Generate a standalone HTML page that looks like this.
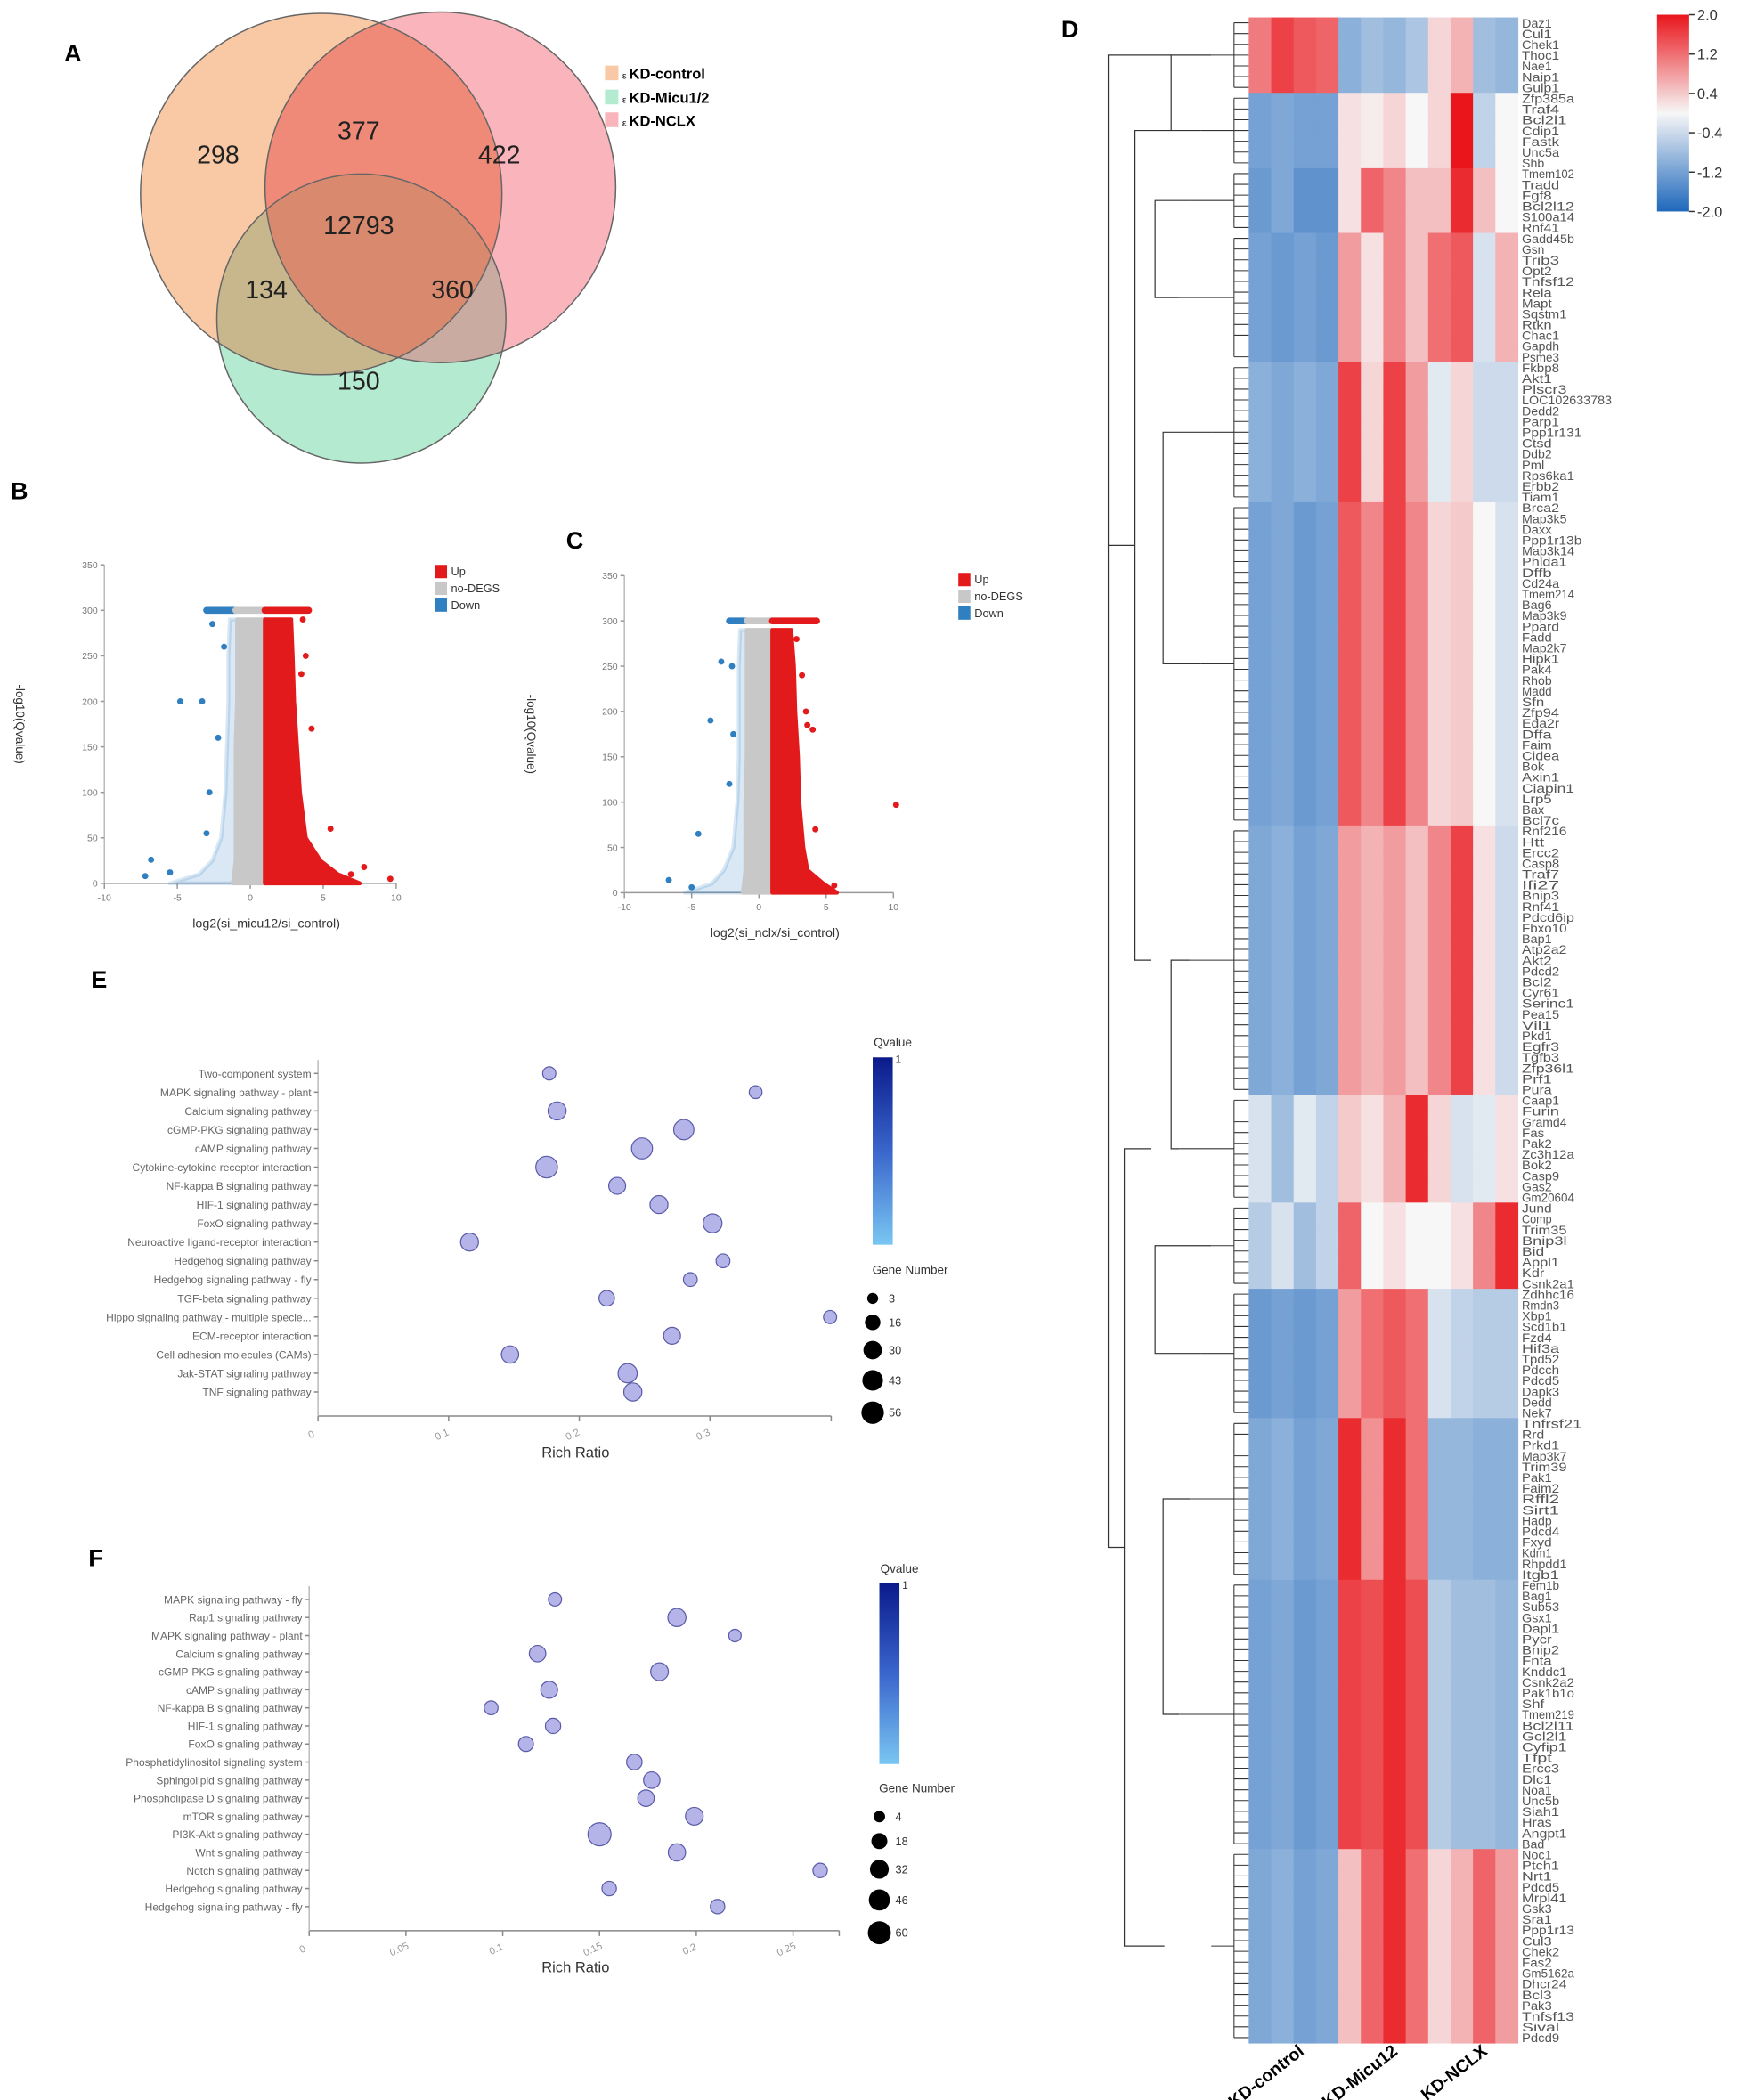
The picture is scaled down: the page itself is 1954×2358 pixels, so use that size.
<!DOCTYPE html>
<html><head><meta charset="utf-8">
<style>
html,body{margin:0;padding:0;background:#fff;}
svg{display:block;}
text{font-family:"Liberation Sans",sans-serif;}
</style></head>
<body>
<svg id="fig" width="1954" height="2358" viewBox="0 0 1300 1569" preserveAspectRatio="none" xmlns="http://www.w3.org/2000/svg">
<defs>
  <clipPath id="clipCtrl"><circle cx="240" cy="145" r="135"/></clipPath>
  <clipPath id="clipNclx"><circle cx="329" cy="140" r="131"/></clipPath>
  <clipPath id="clipMicu"><circle cx="270" cy="238" r="108"/></clipPath>
</defs>
<!-- Panel A: Venn -->
<g>
  <text x="48" y="46" font-size="18" font-weight="bold">A</text>
  <circle cx="240" cy="145" r="135" fill="#f9c9a6"/>
  <circle cx="329" cy="140" r="131" fill="#f9b4bc"/>
  <circle cx="270" cy="238" r="108" fill="#b4ebd0"/>
  <circle cx="329" cy="140" r="131" fill="#f08a78" clip-path="url(#clipCtrl)"/>
  <circle cx="270" cy="238" r="108" fill="#c8b68c" clip-path="url(#clipCtrl)"/>
  <circle cx="270" cy="238" r="108" fill="#c9aba2" clip-path="url(#clipNclx)"/>
  <g clip-path="url(#clipCtrl)"><circle cx="270" cy="238" r="108" fill="#d98a6e" clip-path="url(#clipNclx)"/></g>
  <circle cx="240" cy="145" r="135" fill="none" stroke="#666" stroke-width="1"/>
  <circle cx="329" cy="140" r="131" fill="none" stroke="#666" stroke-width="1"/>
  <circle cx="270" cy="238" r="108" fill="none" stroke="#666" stroke-width="1"/>
  <g font-size="19" text-anchor="middle" fill="#222">
    <text x="163" y="122">298</text>
    <text x="268" y="104">377</text>
    <text x="373" y="122">422</text>
    <text x="268" y="175">12793</text>
    <text x="199" y="223">134</text>
    <text x="338" y="223">360</text>
    <text x="268" y="291">150</text>
  </g>
  <g font-size="11" font-weight="bold">
    <rect x="452" y="49" width="10" height="11" fill="#f9c9a6"/>
    <text x="465" y="59"><tspan font-weight="normal" font-size="7">ε </tspan>KD-control</text>
    <rect x="452" y="67" width="10" height="11" fill="#b4ebd0"/>
    <text x="465" y="77"><tspan font-weight="normal" font-size="7">ε </tspan>KD-Micu1/2</text>
    <rect x="452" y="84" width="10" height="11" fill="#f9b4bc"/>
    <text x="465" y="94"><tspan font-weight="normal" font-size="7">ε </tspan>KD-NCLX</text>
  </g>
</g>
<text x="8" y="373" font-size="18" font-weight="bold">B</text>
<text x="423" y="410" font-size="18" font-weight="bold">C</text>
<text x="68" y="738" font-size="18" font-weight="bold">E</text>
<text x="66" y="1170" font-size="18" font-weight="bold">F</text>
<text x="793" y="28" font-size="18" font-weight="bold">D</text>
<g id="volB"></g>
<g id="volC"></g>
<g id="bubE"></g>
<g id="bubF"></g>
<g id="heat"></g>
</svg>
<script>
// ---------- Volcano data ----------
const volLevels = [0, 10, 25, 50, 100, 150, 200, 250, 290];
const volB_redMax = [7.5, 6, 4.8, 3.8, 3.4, 3.2, 3.0, 2.9, 2.8];
const volB_blueMin = [-5.5, -3.5, -2.6, -2.0, -1.7, -1.6, -1.5, -1.5, -1.4];
const volB_grayLo = [-1.2, -1.1, -1.0, -1.0, -1.0, -1.0, -0.9, -0.9, -0.9];
const volB_grayHi = [1.0, 1.0, 1.0, 1.0, 1.0, 1.0, 1.0, 1.0, 1.0];
const volB_topRed = [1.0, 4.0]; const volB_topGray = [-1.0, 1.0]; const volB_topBlue = [-3.0, -1.0];
const volB_redX = [9.6, 7.8, 6.9, 5.5, 4.8, 4.2, 3.8, 3.5, 3.6];
const volB_redY = [5, 18, 10, 60, 20, 170, 250, 230, 290];
const volB_blueX = [-7.2, -6.8, -4.8, -3.3, -2.6, -2.8, -1.8, -2.2, -5.5, -3.0];
const volB_blueY = [8, 26, 200, 200, 285, 100, 260, 160, 12, 55];

const volC_redMax = [5.8, 4.8, 3.6, 3.3, 3.0, 2.9, 2.7, 2.6, 2.4];
const volC_blueMin = [-5.5, -3.5, -2.6, -1.9, -1.6, -1.5, -1.5, -1.5, -1.4];
const volC_grayLo = [-1.2, -1.1, -1.0, -1.0, -1.0, -0.9, -0.9, -0.9, -0.9];
const volC_grayHi = [1.0, 1.0, 1.0, 1.0, 1.0, 1.0, 1.0, 0.9, 0.9];
const volC_topRed = [1.0, 4.3]; const volC_topGray = [-0.9, 1.0]; const volC_topBlue = [-2.2, -0.9];
const volC_redX = [10.2, 5.6, 4.2, 3.5, 3.2, 2.8, 3.6, 4.0];
const volC_redY = [97, 8, 70, 200, 240, 280, 185, 180];
const volC_blueX = [-6.7, -4.5, -3.6, -2.8, -2.0, -2.2, -1.9, -5.0];
const volC_blueY = [14, 65, 190, 255, 250, 120, 175, 6];

// ---------- Bubble data E ----------
const catE = ["Two-component system","MAPK signaling pathway - plant","Calcium signaling pathway","cGMP-PKG signaling pathway","cAMP signaling pathway","Cytokine-cytokine receptor interaction","NF-kappa B signaling pathway","HIF-1 signaling pathway","FoxO signaling pathway","Neuroactive ligand-receptor interaction","Hedgehog signaling pathway","Hedgehog signaling pathway - fly","TGF-beta signaling pathway","Hippo signaling pathway - multiple specie...","ECM-receptor interaction","Cell adhesion molecules (CAMs)","Jak-STAT signaling pathway","TNF signaling pathway"];
const ratioE = [0.177,0.335,0.183,0.280,0.248,0.175,0.229,0.261,0.302,0.116,0.310,0.285,0.221,0.392,0.271,0.147,0.237,0.241];
const genesE = [8,7,28,40,45,50,22,27,32,27,10,10,16,8,22,24,34,28];
const ticksE = [0,0.1,0.2,0.3];
const legendE = [3,16,30,43,56];

// ---------- Bubble data F ----------
const catF = ["MAPK signaling pathway - fly","Rap1 signaling pathway","MAPK signaling pathway - plant","Calcium signaling pathway","cGMP-PKG signaling pathway","cAMP signaling pathway","NF-kappa B signaling pathway","HIF-1 signaling pathway","FoxO signaling pathway","Phosphatidylinositol signaling system","Sphingolipid signaling pathway","Phospholipase D signaling pathway","mTOR signaling pathway","PI3K-Akt signaling pathway","Wnt signaling pathway","Notch signaling pathway","Hedgehog signaling pathway","Hedgehog signaling pathway - fly"];
const ratioF = [0.127,0.190,0.220,0.118,0.181,0.124,0.094,0.126,0.112,0.168,0.177,0.174,0.199,0.150,0.190,0.264,0.155,0.211];
const genesF = [8,28,6,20,26,22,10,15,14,16,20,20,26,60,24,12,12,12];
const ticksF = [0,0.05,0.1,0.15,0.2,0.25];
const legendF = [4,18,32,46,60];

// ---------- Heatmap data (row clusters) ----------
const clusterRows = [7,7,6,12,13,30,25,10,8,12,15,25,18];
const clusterCtrl = [[1.1,1.6,1.4,1.3],[-1.2,-1.1,-1.2,-1.2],[-1.3,-1.1,-1.4,-1.4],[-1.2,-1.3,-1.2,-1.3],[-1.0,-1.1,-1.0,-1.1],[-1.2,-1.1,-1.3,-1.2],[-1.1,-1.0,-1.2,-1.1],[-0.3,-0.8,-0.2,-0.5],[-0.6,-0.3,-0.8,-0.5],[-1.3,-1.2,-1.3,-1.2],[-1.1,-1.0,-1.2,-1.1],[-1.2,-1.1,-1.3,-1.2],[-1.1,-1.0,-1.2,-1.1]];
const clusterMicu = [[-1.0,-0.8,-0.9,-0.7],[0.2,0.1,0.3,0.0],[0.2,1.3,1.0,0.5],[0.8,0.2,1.0,0.5],[1.6,0.3,1.6,0.8],[1.4,1.0,1.6,1.0],[0.8,0.6,0.8,0.5],[0.4,0.2,0.6,1.8],[1.3,0.0,0.2,0.0],[0.8,1.2,1.4,1.2],[1.8,0.9,1.8,1.2],[1.6,1.5,1.8,1.5],[0.5,1.3,1.8,1.2]];
const clusterNclx = [[0.3,0.6,-0.8,-0.9],[0.3,2.0,-0.5,0.0],[0.5,1.8,0.5,0.0],[1.2,1.4,-0.3,0.6],[-0.2,0.3,-0.4,-0.4],[0.3,0.4,0.0,-0.3],[1.0,1.6,0.2,-0.4],[0.3,-0.3,-0.2,0.2],[0.0,0.2,1.0,1.8],[-0.3,-0.5,-0.6,-0.6],[-0.9,-0.9,-1.0,-1.0],[-0.6,-0.8,-0.8,-0.9],[0.3,0.6,1.3,0.8]];
const geneLabels = ["Daz1","Cul1","Chek1","Thoc1","Nae1","Naip1","Gulp1","Zfp385a","Traf4","Bcl2l1","Cdip1","Fastk","Unc5a","Shb","Tmem102","Tradd","Fgf8","Bcl2l12","S100a14","Rnf41","Gadd45b","Gsn","Trib3","Opt2","Tnfsf12","Rela","Mapt","Sqstm1","Rtkn","Chac1","Gapdh","Psme3","Fkbp8","Akt1","Plscr3","LOC102633783","Dedd2","Parp1","Ppp1r131","Ctsd","Ddb2","Pml","Rps6ka1","Erbb2","Tiam1","Brca2","Map3k5","Daxx","Ppp1r13b","Map3k14","Phlda1","Dffb","Cd24a","Tmem214","Bag6","Map3k9","Ppard","Fadd","Map2k7","Hipk1","Pak4","Rhob","Madd","Sfn","Zfp94","Eda2r","Dffa","Faim","Cidea","Bok","Axin1","Ciapin1","Lrp5","Bax","Bcl7c","Rnf216","Htt","Ercc2","Casp8","Traf7","Ifi27","Bnip3","Rnf41","Pdcd6ip","Fbxo10","Bap1","Atp2a2","Akt2","Pdcd2","Bcl2","Cyr61","Serinc1","Pea15","Vil1","Pkd1","Egfr3","Tgfb3","Zfp36l1","Prf1","Pura","Caap1","Furin","Gramd4","Fas","Pak2","Zc3h12a","Bok2","Casp9","Gas2","Gm20604","Jund","Comp","Trim35","Bnip3l","Bid","Appl1","Kdr","Csnk2a1","Zdhhc16","Rmdn3","Xbp1","Scd1b1","Fzd4","Hif3a","Tpd52","Pdcch","Pdcd5","Dapk3","Dedd","Nek7","Tnfrsf21","Rrd","Prkd1","Map3k7","Trim39","Pak1","Faim2","Rffl2","Sirt1","Hadp","Pdcd4","Fxyd","Kdm1","Rhpdd1","Itgb1","Fem1b","Bag1","Sub53","Gsx1","Dapl1","Pycr","Bnip2","Fnta","Knddc1","Csnk2a2","Pak1b1o","Shf","Tmem219","Bcl2l11","Gcl2l1","Cyfip1","Tfpt","Ercc3","Dlc1","Noa1","Unc5b","Siah1","Hras","Angpt1","Bad","Noc1","Ptch1","Nrt1","Pdcd5","Mrpl41","Gsk3","Sra1","Ppp1r13","Cul3","Chek2","Fas2","Gm5162a","Dhcr24","Bcl3","Pak3","Tnfsf13","Sival","Pdcd9","Bbf1","Mien1","Emp4","Gabarap","Csrp1","Myo18","Mapt1","Opa1","Tnfrsf10","Apopt1","Dnajc1","Cflar","Xaf1","Noxa1","Pmaip1","Angpt","Ssl1","Pnipp1","Bcap1","Tnfrsf10b","Parl","Dap1","Bcl3","Pmp22","Hip1","Asah2","Rps6ka3","Ptpn6","Ebag9","Hspd1","Cradd","Bcl2l12","Sema3a"];

// ---------- helpers ----------
const NS = "http://www.w3.org/2000/svg";
function mk(parent, tag, attrs, txt) {
  const e = document.createElementNS(NS, tag);
  for (const k in attrs) e.setAttribute(k, attrs[k]);
  if (txt !== undefined) e.textContent = txt;
  parent.appendChild(e);
  return e;
}

// ---------- Volcano ----------
function volcano(g, o) {
  const sx = v => o.x0 + v * o.kx, sy = v => o.y0 - v * o.ky;
  let ax = mk(g, "line", {x1: sx(-10), y1: o.y0, x2: sx(10), y2: o.y0, stroke: "#999", "stroke-width": 1});
  
  
  let ay = mk(g, "line", {x1: sx(-10), y1: sy(0), x2: sx(-10), y2: sy(350), stroke: "#bbb", "stroke-width": 1});
  
  
  [-10,-5,0,5,10].forEach(t => {
    mk(g, "line", {x1: sx(t), y1: o.y0, x2: sx(t), y2: o.y0 + 4, stroke: "#999"});
    let tl = mk(g, "text", {x: sx(t), y: o.y0 + 13, "font-size": 7, fill: "#777", "text-anchor": "middle"}, t);
    
    
  });
  [0,50,100,150,200,250,300,350].forEach(t => {
    mk(g, "line", {x1: sx(-10) - 3, y1: sy(t), x2: sx(-10), y2: sy(t), stroke: "#999"});
    let tl = mk(g, "text", {x: sx(-10) - 5, y: sy(t) + 2.5, "font-size": 7, fill: "#777", "text-anchor": "end"}, t);
    
    
  });
  function band(lo, hi, col, op, name) {
    let pts = [];
    volLevels.forEach((y, i) => pts.push(sx(hi[i]) + "," + sy(y)));
    for (let i = volLevels.length - 1; i >= 0; i--) pts.push(sx(lo[i]) + "," + sy(volLevels[i]));
    let p = mk(g, "polygon", {points: pts.join(" "), fill: col, "fill-opacity": op, stroke: col, "stroke-width": 3, "stroke-opacity": op, "stroke-linejoin": "round"});
    
    
  }
  const ones = volLevels.map(() => 1);
  band(o.blueMin, o.grayLo, "#2f7fc1", 0.18, "down-genes-band");
  band(o.grayLo, o.grayHi, "#c8c8c8", 1, "no-degs-band");
  band(ones, o.redMax, "#e31a1c", 1, "up-genes-band");
  function top(r, col, name) {
    let l = mk(g, "line", {x1: sx(r[0]), y1: sy(300), x2: sx(r[1]), y2: sy(300), stroke: col, "stroke-width": 5, "stroke-linecap": "round"});
    
    
  }
  top(o.topBlue, "#2f7fc1", "down-genes-cap");
  top(o.topGray, "#c8c8c8", "no-degs-cap");
  top(o.topRed, "#e31a1c", "up-genes-cap");
  o.redX.forEach((x, i) => {
    let c = mk(g, "circle", {cx: sx(x), cy: sy(o.redY[i]), r: 2.3, fill: "#e31a1c"});
    
    
  });
  o.blueX.forEach((x, i) => {
    let c = mk(g, "circle", {cx: sx(x), cy: sy(o.blueY[i]), r: 2.3, fill: "#2f7fc1"});
    
    
  });
  let xl = mk(g, "text", {x: sx(0) + 12, y: o.y0 + 33, "font-size": 9.5, fill: "#333", "text-anchor": "middle"}, o.xlabel);
  
  
  let yl = mk(g, "text", {x: 0, y: 0, "font-size": 9, fill: "#333", "text-anchor": "middle", transform: `translate(${o.ylx},${sy(175)}) rotate(90)`}, "-log10(Qvalue)");
  
  
  const leg = [["Up", "#e31a1c"], ["no-DEGS", "#c8c8c8"], ["Down", "#2f7fc1"]];
  leg.forEach((d, i) => {
    let r = mk(g, "rect", {x: o.lx, y: o.ly + i * 12.5, width: 9, height: 10, fill: d[1]});
    
    
    let t = mk(g, "text", {x: o.lx + 12, y: o.ly + i * 12.5 + 8, "font-size": 8.5, fill: "#333"}, d[0]);
    
    
  });
}
volcano(document.getElementById("volB"), {x0: 187, kx: 10.9, y0: 660, ky: 0.68, redMax: volB_redMax, blueMin: volB_blueMin, grayLo: volB_grayLo, grayHi: volB_grayHi, topRed: volB_topRed, topGray: volB_topGray, topBlue: volB_topBlue, redX: volB_redX, redY: volB_redY, blueX: volB_blueX, blueY: volB_blueY, xlabel: "log2(si_micu12/si_control)", ylx: 12, lx: 325, ly: 422});
volcano(document.getElementById("volC"), {x0: 567, kx: 10.05, y0: 667, ky: 0.677, redMax: volC_redMax, blueMin: volC_blueMin, grayLo: volC_grayLo, grayHi: volC_grayHi, topRed: volC_topRed, topGray: volC_topGray, topBlue: volC_topBlue, redX: volC_redX, redY: volC_redY, blueX: volC_blueX, blueY: volC_blueY, xlabel: "log2(si_nclx/si_control)", ylx: 394, lx: 716, ly: 428});

// ---------- Bubble ----------
function rad(n) { return 2.8 + 0.75 * Math.sqrt(n); }
function bubble(g, o) {
  const sx = v => o.x0 + v * o.kx;
  const sy = i => o.yTop + i * o.dy;
  const yBot = sy(o.cats.length - 1) + 18;
  let ax = mk(g, "line", {x1: o.x0, y1: yBot, x2: o.xEnd, y2: yBot, stroke: "#888"});
  
  
  let ay = mk(g, "line", {x1: o.x0, y1: o.yTop - 10, x2: o.x0, y2: yBot, stroke: "#bbb"});
  
  
  mk(g, "line", {x1: o.xEnd, y1: yBot, x2: o.xEnd, y2: yBot + 4, stroke: "#888"});
  o.ticks.forEach(t => {
    mk(g, "line", {x1: sx(t), y1: yBot, x2: sx(t), y2: yBot + 4, stroke: "#888"});
    let tl = mk(g, "text", {x: 0, y: 0, "font-size": 7.5, fill: "#999", "text-anchor": "middle", transform: `translate(${sx(t) - 4},${yBot + 16}) rotate(-25)`}, t);
    
    
  });
  o.cats.forEach((c, i) => {
    mk(g, "line", {x1: o.x0 - 3, y1: sy(i), x2: o.x0, y2: sy(i), stroke: "#888"});
    let t = mk(g, "text", {x: o.x0 - 5, y: sy(i) + 3, "font-size": 8, fill: "#666", "text-anchor": "end"}, c);
    
    
    let b = mk(g, "circle", {cx: sx(o.ratio[i]), cy: sy(i), r: rad(o.genes[i]), fill: "#b4b4e8", stroke: "#5a5aa8", "stroke-width": 0.8});
    
    
  });
  let xl = mk(g, "text", {x: 430, y: yBot + 31, "font-size": 11, fill: "#333", "text-anchor": "middle"}, "Rich Ratio");
  
  
  const gid = "grad" + o.id;
  const defs = mk(g, "defs", {});
  const lg = mk(defs, "linearGradient", {id: gid, x1: 0, y1: 0, x2: 0, y2: 1});
  mk(lg, "stop", {offset: "0", "stop-color": "#0a1a8a"});
  mk(lg, "stop", {offset: "0.5", "stop-color": "#3a66cc"});
  mk(lg, "stop", {offset: "1", "stop-color": "#79c6f2"});
  let cb = mk(g, "rect", {x: o.cbx, y: o.cby, width: 15, height: o.cbh, fill: `url(#${gid})`});
  
  
  let qt = mk(g, "text", {x: o.cbx + 15, y: o.cby - 8, "font-size": 9, fill: "#333", "text-anchor": "middle"}, "Qvalue");
  
  
  mk(g, "text", {x: o.cbx + 17, y: o.cby + 4, "font-size": 8, fill: "#333"}, "1");
  let gt = mk(g, "text", {x: o.cbx + 28, y: o.gy - 10, "font-size": 9, fill: "#333", "text-anchor": "middle"}, "Gene Number");
  
  
  let yy = o.gy;
  o.legend.forEach(n => {
    const r = rad(n);
    yy += r + 4;
    let c = mk(g, "circle", {cx: o.cbx, cy: yy, r: r, fill: "#000"});
    
    
    let t = mk(g, "text", {x: o.cbx + 12, y: yy + 3, "font-size": 8.5, fill: "#333"}, n);
    
    
    yy += r + 4;
  });
}
bubble(document.getElementById("bubE"), {id: "E", cats: catE, ratio: ratioE, genes: genesE, ticks: ticksE, legend: legendE, x0: 237.6, kx: 976, xEnd: 621, yTop: 802, dy: 14, cbx: 652, cby: 790, cbh: 140, gy: 962});
bubble(document.getElementById("bubF"), {id: "F", cats: catF, ratio: ratioF, genes: genesF, ticks: ticksF, legend: legendF, x0: 231, kx: 1446, xEnd: 627, yTop: 1195, dy: 13.5, cbx: 657, cby: 1183, cbh: 135, gy: 1349});

// ---------- Heatmap ----------
(function () {
  const g = document.getElementById("heat");
  const hx = 933, hw = 201, top = 13, rh = 8.05, cw = hw / 12;
  function col(v) {
    v = Math.max(-2, Math.min(2, v));
    const w = [247, 247, 247];
    let c;
    if (v >= 0) { const t = v / 2; c = [233, 21, 27].map((x, i) => w[i] + (x - w[i]) * t); }
    else { const t = -v / 2; c = [31, 104, 188].map((x, i) => w[i] + (x - w[i]) * t); }
    return `rgb(${c.map(Math.round).join(",")})`;
  }
  let row = 0;
  const mids = [];
  clusterRows.forEach((n, ci) => {
    const vals = clusterCtrl[ci].concat(clusterMicu[ci], clusterNclx[ci]);
    const y0 = top + row * rh;
    for (let r = 0; r < n; r++) {
      vals.forEach((v, j) => {
        let c = mk(g, "rect", {x: hx + j * cw, y: top + (row + r) * rh, width: cw + 0.4, height: rh + 0.4, fill: col(v)});
        
        
      });
      const lbl = geneLabels[(row + r) % geneLabels.length];
      let t = mk(g, "text", {x: hx + hw + 3, y: top + (row + r) * rh + 7.5, "font-size": 9.5, fill: "#555", "font-family": "Liberation Mono, monospace", textLength: Math.min(lbl.length * 5.6, 68), lengthAdjust: "spacingAndGlyphs"}, lbl);
      
      
      mk(g, "line", {x1: 922, y1: top + (row + r + 0.5) * rh, x2: hx, y2: top + (row + r + 0.5) * rh, stroke: "#333", "stroke-width": 0.7});
    }
    mk(g, "line", {x1: 922, y1: y0 + rh * 0.5, x2: 922, y2: y0 + (n - 0.5) * rh, stroke: "#333", "stroke-width": 0.7});
    const m = y0 + n * rh / 2;
    mids.push(m);
    const bx = 905 - (ci % 4) * 8;
    mk(g, "line", {x1: bx, y1: m, x2: 922, y2: m, stroke: "#333", "stroke-width": 0.7});
    row += n;
  });
  const dend = mk(g, "g", {stroke: "#333", "stroke-width": 0.8, fill: "none"});
  
  
  const bxs = mids.map((m, ci) => 905 - (ci % 4) * 8);
  function join(a, b, x) {
    mk(dend, "path", {d: `M${bxs[a]},${mids[a]} H${x} V${mids[b]} H${bxs[b]}`});
  }
  for (let i = 0; i < mids.length - 1; i += 2) join(i, i + 1, 875 - (i % 3) * 6);
  mk(dend, "path", {d: `M875,${mids[1]} H848 V${mids[6]} H860`});
  mk(dend, "path", {d: `M860,${mids[7]} H840 V${mids[12]} H870`});
  mk(dend, "path", {d: `M848,${(mids[1]+mids[6])/2} H828 V${(mids[7]+mids[12])/2} H840`});
  mk(dend, "path", {d: `M875,${mids[0]} H828 V${(mids[1]+mids[6])/2}`});
  const defs = mk(g, "defs", {});
  const lg = mk(defs, "linearGradient", {id: "hmgrad", x1: 0, y1: 0, x2: 0, y2: 1});
  [[0, 2], [0.2, 1.2], [0.4, 0.4], [0.5, 0], [0.6, -0.4], [0.8, -1.2], [1, -2]].forEach(s => mk(lg, "stop", {offset: s[0], "stop-color": col(s[1])}));
  let cb = mk(g, "rect", {x: 1238, y: 11, width: 24, height: 147, fill: "url(#hmgrad)"});
  
  
  ["2.0", "1.2", "0.4", "-0.4", "-1.2", "-2.0"].forEach((t, i) => {
    const y = 11 + i * 147 / 5;
    mk(g, "line", {x1: 1262, y1: y, x2: 1266, y2: y, stroke: "#333"});
    let tl = mk(g, "text", {x: 1268, y: y + 4, "font-size": 11, fill: "#333"}, t);
    
    
  });
  [["KD-control", 975], ["KD-Micu12", 1045], ["KD-NCLX", 1112]].forEach(d => {
    let t = mk(g, "text", {x: 0, y: 0, "font-size": 13, "font-weight": "bold", "font-family": "Liberation Serif, serif", "text-anchor": "end", transform: `translate(${d[1]},1534) rotate(-38)`}, d[0]);
    
    
  });
})();
</script>
</body></html>
